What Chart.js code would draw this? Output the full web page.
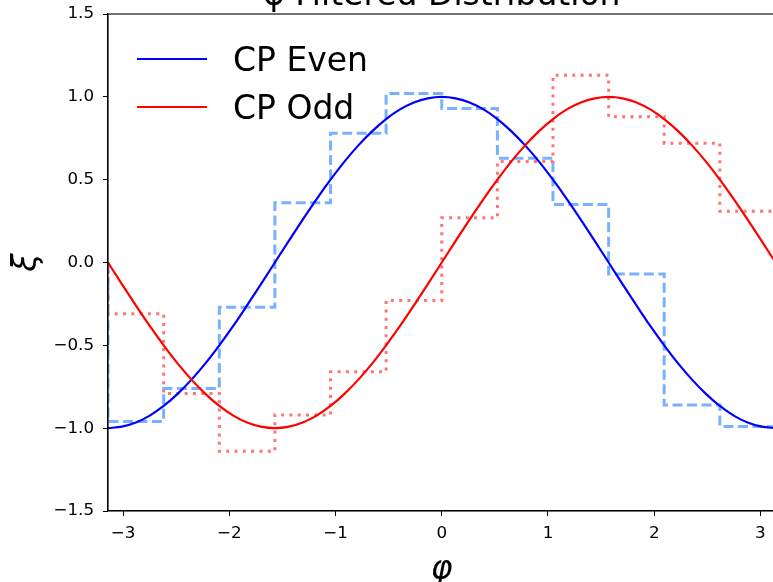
<!DOCTYPE html>
<html>
<head>
<meta charset="utf-8">
<script src="https://cdn.jsdelivr.net/npm/chart.js@4.4.1/dist/chart.umd.min.js"></script>
<style>
  html, body { margin: 0; padding: 0; background: #fff; overflow: hidden; }
  #wrap { position: absolute; left: 0; top: 0; width: 784px; height: 582px; }
</style>
</head>
<body>
<div id="wrap"><canvas id="chart" width="784" height="582"></canvas></div>
<script>
const chartTitle = "φ Filtered Distribution";

// smooth curves, sampled every 7.5 degrees
const phi = [-3.142, -3.011, -2.880, -2.749, -2.618, -2.487, -2.356, -2.225, -2.094, -1.963,
  -1.833, -1.702, -1.571, -1.440, -1.309, -1.178, -1.047, -0.916, -0.785, -0.654,
  -0.524, -0.393, -0.262, -0.131, 0, 0.131, 0.262, 0.393, 0.524, 0.654,
  0.785, 0.916, 1.047, 1.178, 1.309, 1.440, 1.571, 1.702, 1.833, 1.963,
  2.094, 2.225, 2.356, 2.487, 2.618, 2.749, 2.880, 3.011, 3.142];
const cpEven = [-1, -0.991, -0.966, -0.924, -0.866, -0.793, -0.707, -0.609, -0.5, -0.383,
  -0.259, -0.131, 0, 0.131, 0.259, 0.383, 0.5, 0.609, 0.707, 0.793,
  0.866, 0.924, 0.966, 0.991, 1, 0.991, 0.966, 0.924, 0.866, 0.793,
  0.707, 0.609, 0.5, 0.383, 0.259, 0.131, 0, -0.131, -0.259, -0.383,
  -0.5, -0.609, -0.707, -0.793, -0.866, -0.924, -0.966, -0.991, -1];
const cpOdd = [0, -0.131, -0.259, -0.383, -0.5, -0.609, -0.707, -0.793, -0.866, -0.924,
  -0.966, -0.991, -1, -0.991, -0.966, -0.924, -0.866, -0.793, -0.707, -0.609,
  -0.5, -0.383, -0.259, -0.131, 0, 0.131, 0.259, 0.383, 0.5, 0.609,
  0.707, 0.793, 0.866, 0.924, 0.966, 0.991, 1, 0.991, 0.966, 0.924,
  0.866, 0.793, 0.707, 0.609, 0.5, 0.383, 0.259, 0.131, 0];

// filtered histograms (12 bins)
const binEdges = [-3.142, -2.618, -2.094, -1.571, -1.047, -0.524, 0, 0.524, 1.047, 1.571, 2.094, 2.618, 3.142];
const evenHist = [-0.96, -0.76, -0.27, 0.36, 0.78, 1.02, 0.93, 0.63, 0.35, -0.07, -0.86, -0.99];
const oddHist = [-0.31, -0.79, -1.14, -0.92, -0.66, -0.23, 0.27, 0.61, 1.13, 0.88, 0.72, 0.31];

const xTickValues = [-3, -2, -1, 0, 1, 2, 3];
const xTickLabels = ["−3", "−2", "−1", "0", "1", "2", "3"];
const yTickValues = [-1.5, -1.0, -0.5, 0.0, 0.5, 1.0, 1.5];
const yTickLabels = ["−1.5", "−1.0", "−0.5", "0.0", "0.5", "1.0", "1.5"];

const curve = (ys) => phi.map((x, i) => ({ x: x, y: ys[i] }));
const stairs = (h) => {
  const pts = [{ x: binEdges[0], y: 0 }];
  h.forEach((v, i) => pts.push({ x: binEdges[i], y: v }));
  pts.push({ x: binEdges[binEdges.length - 1], y: h[h.length - 1] });
  pts.push({ x: binEdges[binEdges.length - 1], y: 0 });
  return pts;
};

Chart.defaults.font.family = "'DejaVu Sans', sans-serif";
Chart.defaults.color = "#000";

// box, title and legend drawn inside the axes like matplotlib
const framePlugin = {
  id: "frame",
  afterDraw(chart) {
    const { ctx, chartArea: a } = chart;
    ctx.save();
    ctx.strokeStyle = "#000";
    ctx.lineWidth = 1.1;
    ctx.strokeRect(a.left, a.top, a.right - a.left, a.bottom - a.top);

    ctx.fillStyle = "#000";
    ctx.font = "33px 'DejaVu Sans'";
    ctx.textAlign = "center";
    ctx.textBaseline = "alphabetic";
    ctx.fillText(chartTitle, (a.left + a.right) / 2, 4.5);

    const items = [chart.data.datasets[1], chart.data.datasets[0]];
    items.forEach((ds, i) => {
      const y = 59 + i * 48;
      ctx.strokeStyle = ds.borderColor;
      ctx.lineWidth = 2.2;
      ctx.beginPath();
      ctx.moveTo(137, y);
      ctx.lineTo(207, y);
      ctx.stroke();
      ctx.textAlign = "left";
      ctx.fillText(ds.label, 233, y + 12);
    });
    ctx.restore();
  }
};

new Chart(document.getElementById("chart"), {
  type: "line",
  data: {
    datasets: [
      { label: "CP Odd", data: curve(cpOdd), borderColor: "#ff0000", borderWidth: 2.2,
        pointRadius: 0, cubicInterpolationMode: "monotone" },
      { label: "CP Even", data: curve(cpEven), borderColor: "#0000ff", borderWidth: 2.2,
        pointRadius: 0, cubicInterpolationMode: "monotone" },
      { label: "CP Odd filtered", data: stairs(oddHist), borderColor: "#ff7575", borderWidth: 3,
        borderDash: [3, 5.3], stepped: "before", pointRadius: 0 },
      { label: "CP Even filtered", data: stairs(evenHist), borderColor: "#78b1ff", borderWidth: 3,
        borderDash: [10, 4.5], stepped: "before", pointRadius: 0 }
    ]
  },
  options: {
    responsive: false,
    animation: false,
    layout: { padding: { top: 14, right: 8.5, bottom: 0, left: 0 } },
    plugins: {
      legend: { display: false },
      tooltip: { enabled: false },
      title: { display: false }
    },
    scales: {
      x: {
        type: "linear",
        min: binEdges[0],
        max: binEdges[binEdges.length - 1],
        afterBuildTicks: (s) => { s.ticks = xTickValues.map((v) => ({ value: v })); },
        afterFit: (s) => { s.height = 71; s.paddingLeft = 0; s.paddingRight = 0; },
        ticks: {
          font: { size: 16.7 },
          padding: 8,
          maxRotation: 0,
          callback: (v, i) => xTickLabels[i]
        },
        grid: { drawOnChartArea: false, drawTicks: true, tickLength: 5, tickColor: "#000" },
        border: { display: true, color: "#000", width: 1.1 },
        title: {
          display: true,
          text: "φ",
          font: { size: 33, style: "italic", lineHeight: 0.7 },
          padding: { top: 0, bottom: 0.5 }
        }
      },
      y: {
        min: -1.5,
        max: 1.5,
        afterBuildTicks: (s) => { s.ticks = yTickValues.map((v) => ({ value: v })); },
        afterFit: (s) => { s.width = 108; s.paddingTop = 0; s.paddingBottom = 0; },
        ticks: {
          font: { size: 16.7 },
          padding: 9,
          callback: (v, i) => yTickLabels[i]
        },
        grid: { drawOnChartArea: false, drawTicks: true, tickLength: 5, tickColor: "#000" },
        border: { display: true, color: "#000", width: 1.1 },
        title: {
          display: true,
          text: "ξ",
          font: { size: 33, style: "italic" },
          padding: { top: 8, bottom: 0 }
        }
      }
    }
  },
  plugins: [framePlugin]
});
</script>
</body>
</html>
